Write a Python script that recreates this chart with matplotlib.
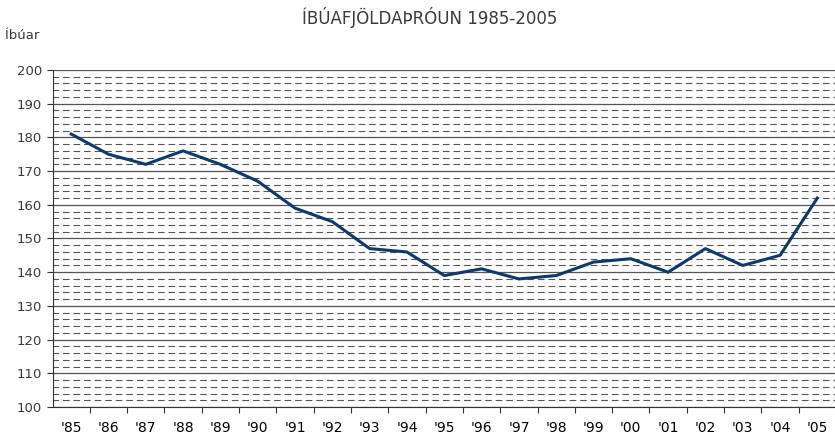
import matplotlib.pyplot as plt
import numpy as np

years = ["'85", "'86", "'87", "'88", "'89", "'90", "'91", "'92", "'93", "'94",
         "'95", "'96", "'97", "'98", "'99", "'00", "'01", "'02", "'03", "'04", "'05"]
residents = [181, 175, 172, 176, 172, 167, 159, 155, 147, 146,
             139, 141, 138, 139, 143, 144, 140, 147, 142, 145, 162]

fig = plt.figure(figsize=(8.35, 4.41), dpi=100)
ax = fig.add_axes([0.0629, 0.0771, 0.9383, 0.7642])

x = np.arange(len(years))
ax.plot(x, residents, color='#0d3a6b', lw=2.2, zorder=3)

ax.set_xlim(-0.5, len(years) - 0.5)
ax.set_ylim(100, 200)
ax.set_yticks(np.arange(100, 201, 10))
ax.set_yticks(np.arange(100, 201, 2), minor=True)
ax.grid(which='major', axis='y', color='#555555', lw=0.9)
ax.grid(which='minor', axis='y', color='#555555', lw=0.8, ls=(1, (6, 3.5)))

# category labels in the middle, ticks on the boundaries
ax.set_xticks(x + 0.5)
ax.set_xticklabels([])
ax.set_xticks(x, minor=True)
ax.set_xticklabels(years, minor=True)
ax.tick_params(axis='x', which='minor', length=0, pad=10)
ax.tick_params(axis='x', which='major', length=4, color='#333333', direction='out')
ax.tick_params(axis='y', which='major', length=4, color='#333333', direction='out')
ax.tick_params(axis='y', which='minor', length=0)
ax.tick_params(labelsize=9.5, labelcolor='#3a3a3a')

for s in ['top', 'right']:
    ax.spines[s].set_visible(False)
ax.spines['left'].set_color('#333333')
ax.spines['bottom'].set_color('#333333')

fig.text(0.515, 0.96, 'ÍBÚAFJÖLDAÞRÓUN 1985-2005', ha='center', va='center',
         fontsize=12, color='#3a3a3a')
fig.text(0.006, 0.92, 'Íbúar', ha='left', va='center', fontsize=9.5, color='#3a3a3a')

fig.savefig('out.png', dpi=100)
